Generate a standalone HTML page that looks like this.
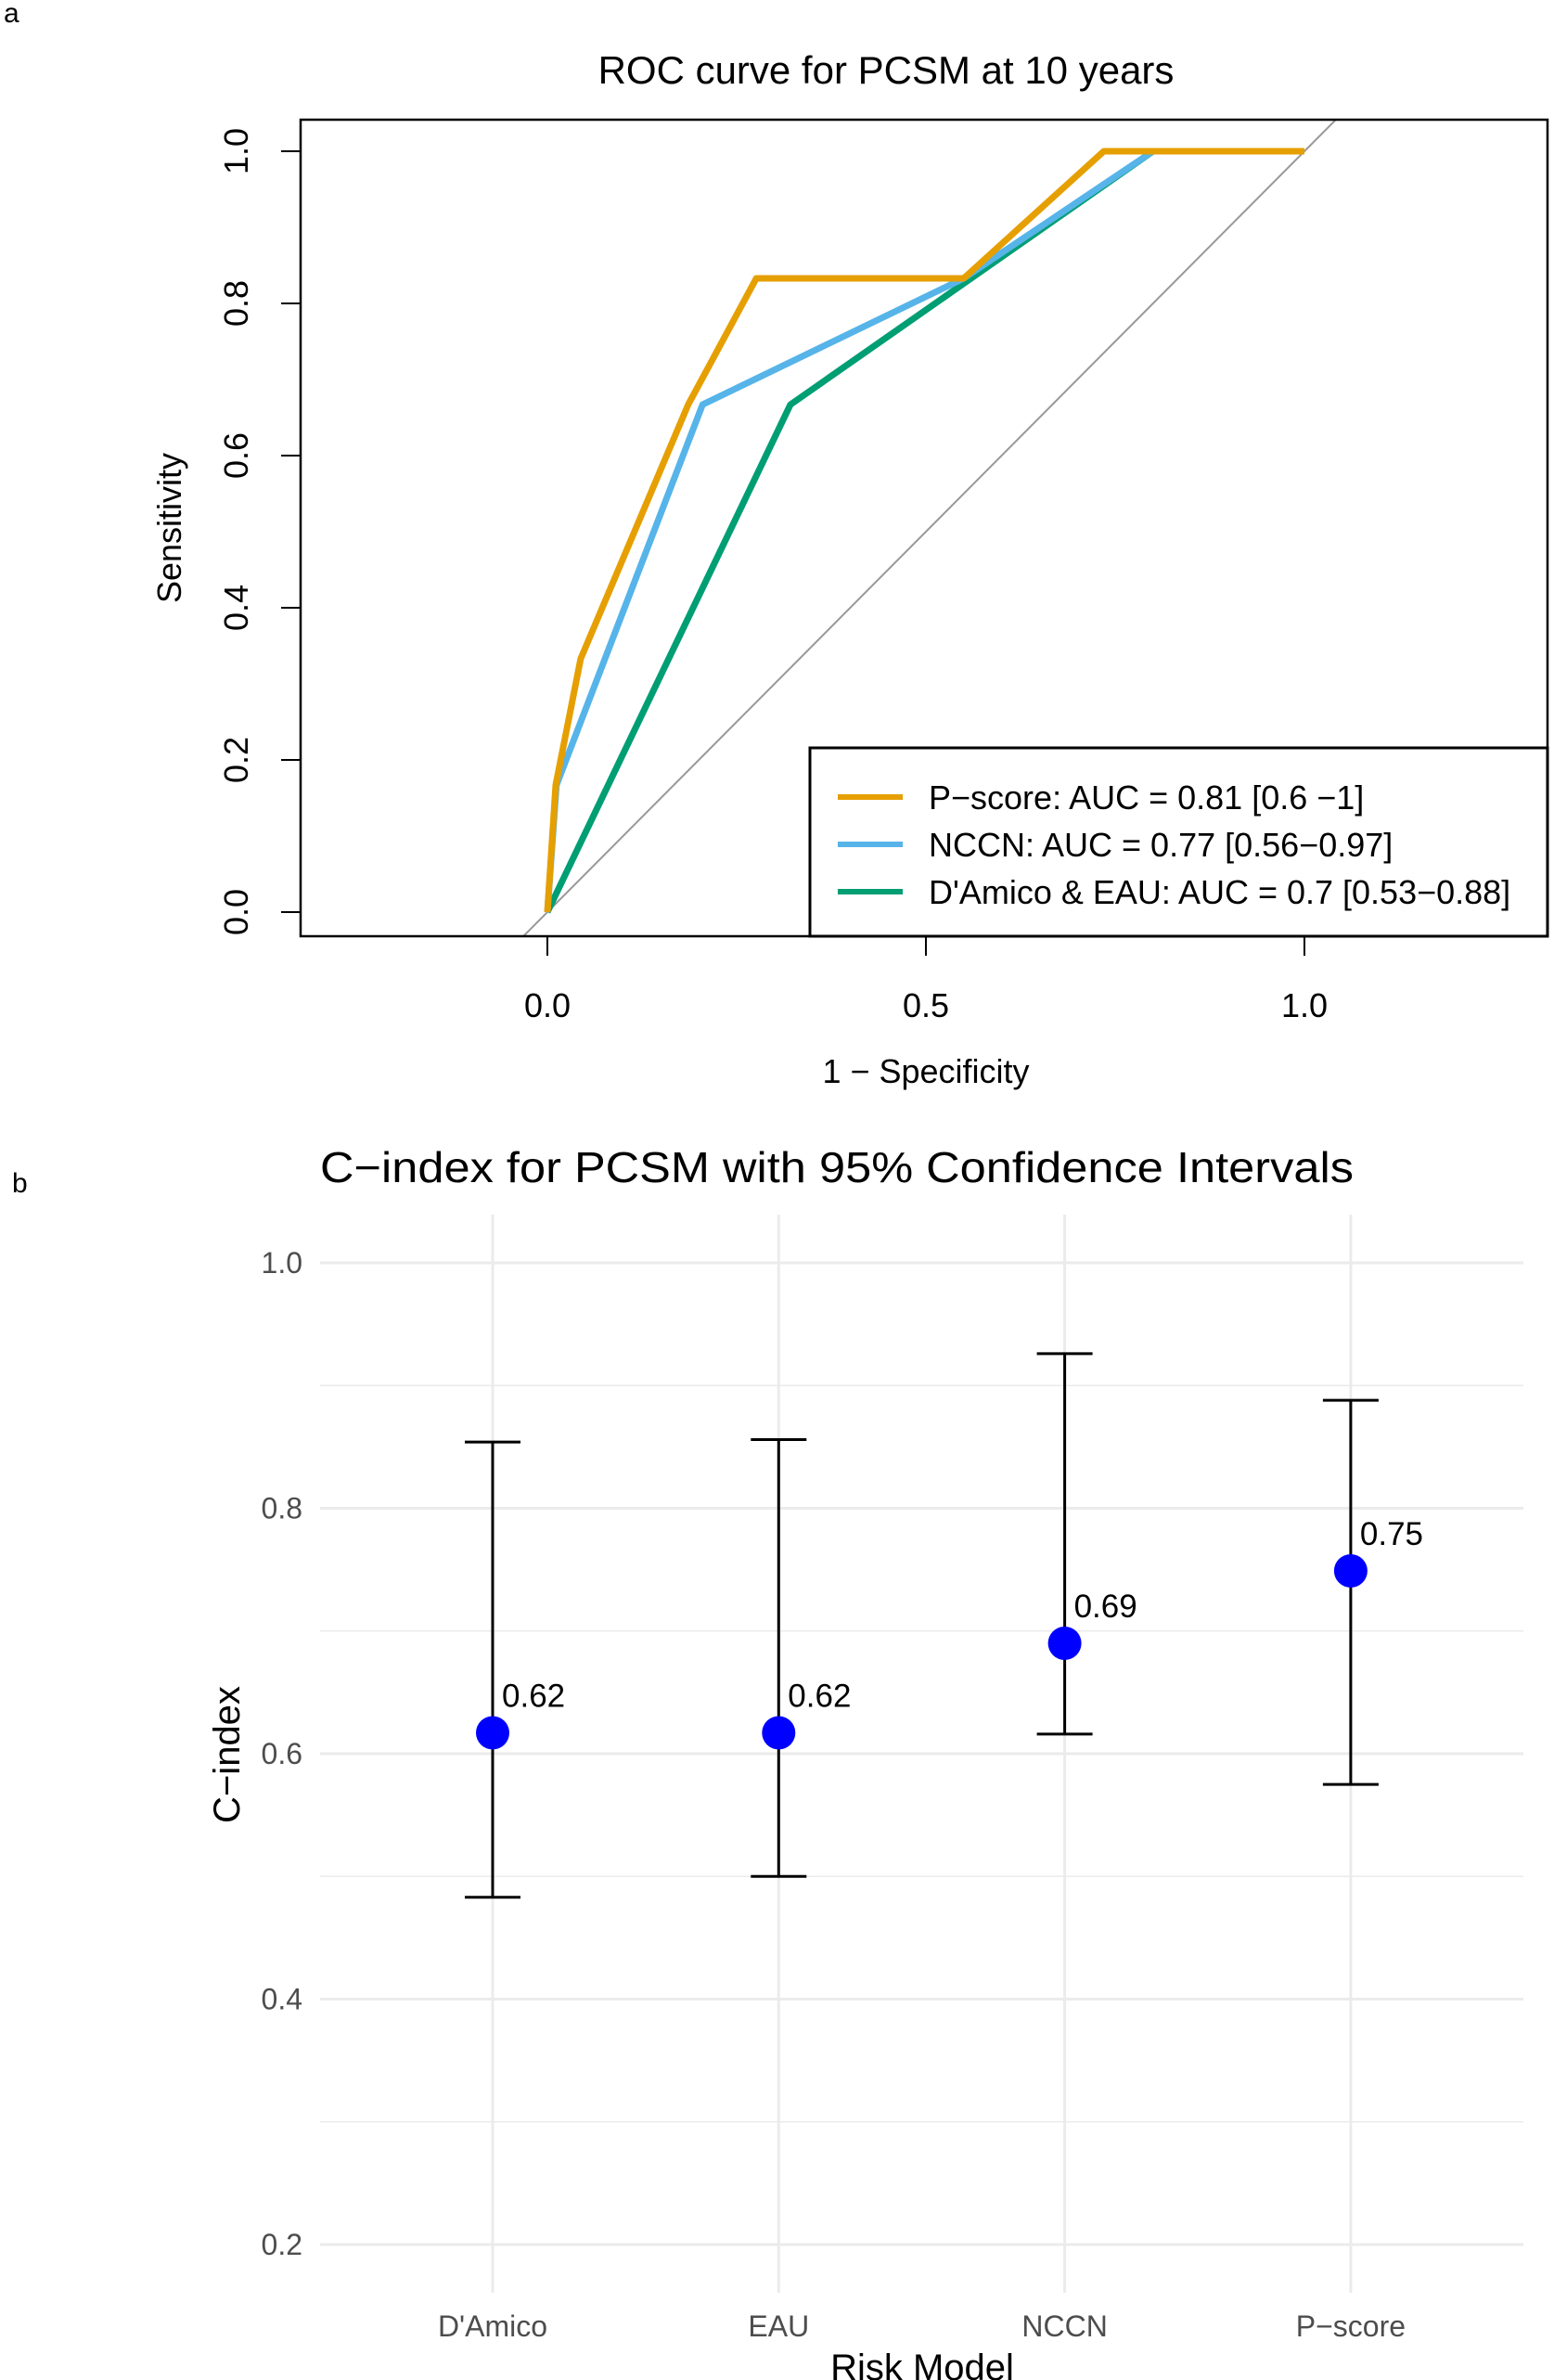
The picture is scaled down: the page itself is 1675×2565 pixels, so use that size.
<!DOCTYPE html>
<html><head><meta charset="utf-8"><style>
html,body{margin:0;padding:0;background:#fff}
svg{display:block;font-family:"Liberation Sans",Arial,sans-serif}
</style></head><body>
<svg id="fig" width="1675" height="2565" viewBox="0 0 1675 2565" xmlns="http://www.w3.org/2000/svg">
<text x="4" y="24" font-size="30">a</text>
<text x="955" y="90" font-size="42" text-anchor="middle">ROC curve for PCSM at 10 years</text>
<g id="roc"></g>
<text x="13" y="1285" font-size="30">b</text>
<text x="345" y="1274" font-size="46" textLength="1114" lengthAdjust="spacingAndGlyphs">C−index for PCSM with 95% Confidence Intervals</text>
<g id="ci"></g>
</svg>
<script>
// ROC data
const rocSeries = ["P-score","NCCN","D'Amico & EAU"];
const rocColors = ["#E69F00","#56B4E9","#009E73"];
const pscoreFpr = [0,0.011,0.044,0.186,0.276,0.55,0.735,1];
const pscoreTpr = [0,0.167,0.333,0.667,0.833,0.833,1,1];
const nccnFpr = [0,0.012,0.205,0.55,0.80,1];
const nccnTpr = [0,0.167,0.667,0.833,1,1];
const damicoFpr = [0,0.321,0.80,1];
const damicoTpr = [0,0.667,1,1];
const rocLegend = ["P−score: AUC = 0.81 [0.6 −1]","NCCN: AUC = 0.77 [0.56−0.97]","D'Amico & EAU: AUC = 0.7 [0.53−0.88]"];
const rocXTicks = [0,0.5,1];
const rocXTickLabels = ["0.0","0.5","1.0"];
const rocYTicks = [0,0.2,0.4,0.6,0.8,1];
const rocYTickLabels = ["0.0","0.2","0.4","0.6","0.8","1.0"];

// C-index data
const ciCategories = ["D'Amico","EAU","NCCN","P-score"];
const ciCategoryLabels = ["D'Amico","EAU","NCCN","P−score"];
const ciValues = [0.617,0.617,0.690,0.749];
const ciLower = [0.483,0.500,0.616,0.575];
const ciUpper = [0.854,0.856,0.926,0.888];
const ciValueLabels = ["0.62","0.62","0.69","0.75"];
const ciYTicks = [0.2,0.4,0.6,0.8,1.0];
const ciYTickLabels = ["0.2","0.4","0.6","0.8","1.0"];
const ciMinorTicks = [0.3,0.5,0.7,0.9];

const NS="http://www.w3.org/2000/svg";
function mk(parent,tag,attrs,text){const e=document.createElementNS(NS,tag);for(const k in attrs)e.setAttribute(k,attrs[k]);if(text!==undefined)e.textContent=text;parent.appendChild(e);return e;}

// ROC axes
const rx=v=>590+v*816, ry=v=>983-v*820;
const roc=document.getElementById('roc');
const clip=mk(roc,'clipPath',{id:'rocclip'});mk(clip,'rect',{x:324,y:129,width:1344,height:880});
let diag=mk(roc,'line',{x1:rx(-0.2),y1:ry(-0.2),x2:rx(1.3),y2:ry(1.3),stroke:'#999',"stroke-width":2,"clip-path":'url(#rocclip)'});


const rocData=[[damicoFpr,damicoTpr],[nccnFpr,nccnTpr],[pscoreFpr,pscoreTpr]];
[2,1,0].forEach((si,k)=>{
  const d=rocData[k];
  const pts=d[0].map((f,i)=>rx(f)+','+ry(d[1][i])).join(' ');
  const pl=mk(roc,'polyline',{points:pts,fill:'none',stroke:rocColors[si],"stroke-width":7,"stroke-linejoin":'round'});
  
  
});
let box=mk(roc,'rect',{x:324,y:129,width:1344,height:880,fill:'none',stroke:'#000','stroke-width':2.5});


rocXTicks.forEach((t,i)=>{
  mk(roc,'line',{x1:rx(t),y1:1009,x2:rx(t),y2:1030,stroke:'#000','stroke-width':2});
  const tl=mk(roc,'text',{x:rx(t),y:1096,'font-size':36,'text-anchor':'middle'},rocXTickLabels[i]);
  
  
});
rocYTicks.forEach((t,i)=>{
  mk(roc,'line',{x1:303,y1:ry(t),x2:324,y2:ry(t),stroke:'#000','stroke-width':2});
  const tl=mk(roc,'text',{x:0,y:0,'font-size':36,'text-anchor':'middle',transform:`translate(267,${ry(t)}) rotate(-90)`},rocYTickLabels[i]);
  
  
});
let xt=mk(roc,'text',{x:998,y:1167,'font-size':36,'text-anchor':'middle'},'1 − Specificity');


let yt=mk(roc,'text',{x:0,y:0,'font-size':36,'text-anchor':'middle',transform:'translate(195,569) rotate(-90)'},'Sensitivity');


let lg=mk(roc,'g',{});


mk(lg,'rect',{x:873,y:806,width:795,height:203,fill:'#fff',stroke:'#000','stroke-width':3});
rocLegend.forEach((s,i)=>{
  const y=859+i*51;
  mk(lg,'line',{x1:903,y1:y,x2:973,y2:y,stroke:rocColors[i],'stroke-width':6});
  const t=mk(lg,'text',{x:1001,y:y+13,'font-size':36},s);
  
  
});

// C-index plot
const ci=document.getElementById('ci');
const cy=v=>1361+(1-v)*1322.5;
const cx=i=>531+i*308.3;
ciMinorTicks.forEach(t=>mk(ci,'line',{x1:345,x2:1642,y1:cy(t),y2:cy(t),stroke:'#ebebeb','stroke-width':1.5}));
ciYTicks.forEach((t,i)=>{
  mk(ci,'line',{x1:345,x2:1642,y1:cy(t),y2:cy(t),stroke:'#ebebeb','stroke-width':3});
  const tl=mk(ci,'text',{x:326,y:cy(t)+11,'font-size':32,'text-anchor':'end',fill:'#4d4d4d'},ciYTickLabels[i]);
  
  
});
ciCategories.forEach((c,i)=>{
  mk(ci,'line',{x1:cx(i),x2:cx(i),y1:1309,y2:2471,stroke:'#ebebeb','stroke-width':3});
});
ciCategories.forEach((c,i)=>{
  const x=cx(i);
  const g=mk(ci,'g',{});
  
  
  mk(g,'line',{x1:x,x2:x,y1:cy(ciUpper[i]),y2:cy(ciLower[i]),stroke:'#000','stroke-width':3});
  mk(g,'line',{x1:x-30,x2:x+30,y1:cy(ciUpper[i]),y2:cy(ciUpper[i]),stroke:'#000','stroke-width':3});
  mk(g,'line',{x1:x-30,x2:x+30,y1:cy(ciLower[i]),y2:cy(ciLower[i]),stroke:'#000','stroke-width':3});
  const p=mk(ci,'circle',{cx:x,cy:cy(ciValues[i]),r:18,fill:'#0000ff'});
  
  
  const vl=mk(ci,'text',{x:x+10,y:cy(ciValues[i])-28,'font-size':35},ciValueLabels[i]);
  
  
  const tl=mk(ci,'text',{x:x,y:2518,'font-size':32,'text-anchor':'middle',fill:'#4d4d4d'},ciCategoryLabels[i]);
  
  
});
let cxt=mk(ci,'text',{x:994,y:2565,'font-size':40,'text-anchor':'middle'},'Risk Model');


let cyt=mk(ci,'text',{x:0,y:0,'font-size':40,'text-anchor':'middle',transform:'translate(258,1891) rotate(-90)'},'C−index');


</script>
</body></html>
